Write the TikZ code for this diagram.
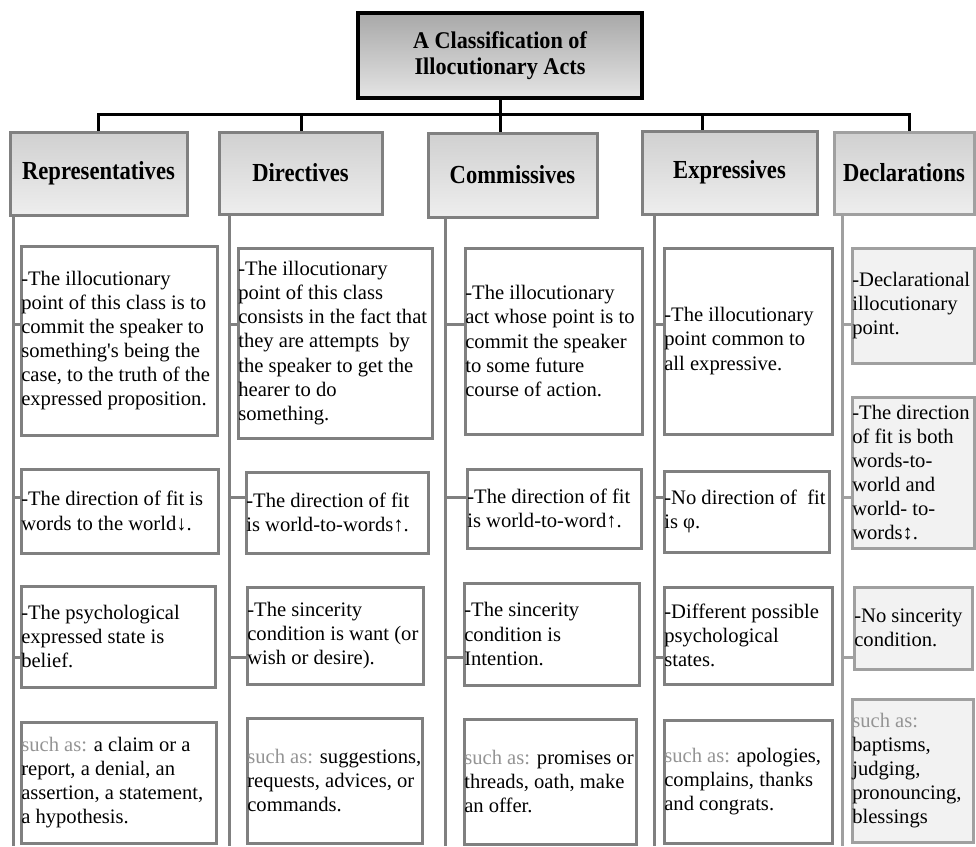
\documentclass[tikz,border=0pt]{standalone}
\usepackage{graphicx}
\usepackage{fontspec}
\setmainfont{Liberation Serif}[Ligatures=TeXOff]
\definecolor{bord}{HTML}{808080}
\definecolor{bordD}{HTML}{A0A0A0}
\definecolor{declF}{HTML}{F2F2F2}
\definecolor{suchc}{HTML}{949494}
\definecolor{rootT}{HTML}{A8A8A8}
\definecolor{rootB}{HTML}{E4E4E4}
\definecolor{catT}{HTML}{D0D0D0}
\definecolor{catB}{HTML}{EEEEEE}
\newcommand\mkbox[6]{%
  \node[#1, minimum width={(#5-#3)*1pt}, minimum height={(#6-#4)*1pt}, inner sep=0pt]
    (#2) at ({(#3+#5)/2},{(#4+#6)/2}) {};}
\newcommand\sa{\textcolor{suchc}{such as:}}
\newcommand\tallH[1]{\scalebox{1}[1.15]{#1}}
\newcommand\tallR[1]{\scalebox{1}[1.08]{#1}}
\tikzset{
  rootbox/.style={draw=black, line width=3.5pt, top color=rootT, bottom color=rootB},
  catbox/.style={draw=bord, line width=3pt, top color=catT, bottom color=catB},
  catboxD/.style={draw=bordD, line width=3pt, top color=catT, bottom color=catB},
  cbox/.style={draw=bord, line width=3pt, fill=white},
  dbox/.style={draw=bordD, line width=3pt, fill=declF},
  txt/.style={anchor=west, inner sep=0pt, align=left, font=\fontsize{20.6}{24.1}\selectfont},
  hdr/.style={inner sep=0pt, align=center, font=\fontsize{22.6}{26}\selectfont\bfseries},
  roottxt/.style={inner sep=0pt, align=center, font=\fontsize{22.2}{25.7}\selectfont\bfseries},
  link/.style={draw=black, line width=3pt},
  spine/.style={draw=bord, line width=3pt},
  spineD/.style={draw=bordD, line width=3pt},
}
\begin{document}
\begin{tikzpicture}[x=1pt, y=-1pt]
\useasboundingbox (0,0) rectangle (976,846);

% root
\mkbox{rootbox}{root}{358}{13}{642}{98}
\node[roottxt] (roott) at (root.center) {\tallR{A Classification of}\\\tallR{Illocutionary Acts}};

% categories
\mkbox{catbox}{R}{10}{132}{187}{215}
\mkbox{catbox}{D}{219}{132}{382}{214}
\mkbox{catbox}{C}{428}{133}{597}{217}
\mkbox{catbox}{E}{642}{131}{817}{214}
\mkbox{catboxD}{X}{834}{132}{974}{214}
\node[hdr] (Rt) at (R.center) {\tallH{Representatives}};
\node[hdr] (Dt) at (D.center) {\tallH{Directives}};
\node[hdr] (Ct) at (C.center) {\tallH{Commissives}};
\node[hdr] (Et) at (E.center) {\tallH{Expressives}};
\node[hdr] (Xt) at (X.center) {\tallH{Declarations}};

% top connectors
\coordinate (dR) at (98,114);
\coordinate (dD) at (301,114);
\coordinate (dC) at (500,114);
\coordinate (dE) at (702,114);
\coordinate (dX) at (909,114);
\draw[link] (root.south -| dC) -- (dC);
\draw[link, line cap=rect] (dR) -- (dX);
\draw[link] (dR) -- (dR |- R.north);
\draw[link] (dD) -- (dD |- D.north);
\draw[link] (dC) -- (dC |- C.north);
\draw[link] (dE) -- (dE |- E.north);
\draw[link] (dX) -- (dX |- X.north);

% spines
\coordinate (Rb) at (13,846);
\coordinate (Db) at (229,846);
\coordinate (Cb) at (445,846);
\coordinate (Eb) at (654,846);
\coordinate (Xb) at (842,846);
\draw[spine] (R.south -| Rb) -- (Rb);
\draw[spine] (D.south -| Db) -- (Db);
\draw[spine] (C.south -| Cb) -- (Cb);
\draw[spine] (E.south -| Eb) -- (Eb);
\draw[spineD] (X.south -| Xb) -- (Xb);

% content boxes
\mkbox{cbox}{r1}{21}{246}{217}{435}
\mkbox{cbox}{r2}{21}{469}{218}{553}
\mkbox{cbox}{r3}{21}{586}{215}{687}
\mkbox{cbox}{r4}{21}{722}{216}{843}
\mkbox{cbox}{d1}{238}{248}{432}{438}
\mkbox{cbox}{d2}{246}{472}{428}{553}
\mkbox{cbox}{d3}{247}{587}{423}{684}
\mkbox{cbox}{d4}{247}{718}{422}{843}
\mkbox{cbox}{c1}{465}{248}{642}{434}
\mkbox{cbox}{c2}{467}{469}{641}{548}
\mkbox{cbox}{c3}{464}{583}{639}{685}
\mkbox{cbox}{c4}{464}{719}{636}{844}
\mkbox{cbox}{e1}{664}{248}{832}{434}
\mkbox{cbox}{e2}{664}{471}{829}{552}
\mkbox{cbox}{e3}{664}{587}{832}{684}
\mkbox{cbox}{e4}{664}{720}{832}{843}
\mkbox{dbox}{x1}{852}{248}{974}{363}
\mkbox{dbox}{x2}{852}{397}{974}{548}
\mkbox{dbox}{x3}{854}{587}{972}{669}
\mkbox{dbox}{x4}{852}{699}{973}{842}

% ticks
\coordinate (ya) at (0,324);
\coordinate (yb) at (0,497);
\coordinate (yc) at (0,657);
\draw[spine] (Rb |- ya) -- (r1.west |- ya);
\draw[spine] (Rb |- yb) -- (r2.west |- yb);
\draw[spine] (Rb |- yc) -- (r3.west |- yc);
\draw[spine] (Db |- ya) -- (d1.west |- ya);
\draw[spine] (Db |- yb) -- (d2.west |- yb);
\draw[spine] (Db |- yc) -- (d3.west |- yc);
\draw[spine] (Cb |- ya) -- (c1.west |- ya);
\draw[spine] (Cb |- yb) -- (c2.west |- yb);
\draw[spine] (Cb |- yc) -- (c3.west |- yc);
\draw[spine] (Eb |- ya) -- (e1.west |- ya);
\draw[spine] (Eb |- yb) -- (e2.west |- yb);
\draw[spine] (Eb |- yc) -- (e3.west |- yc);
\draw[spineD] (Xb |- ya) -- (x1.west |- ya);
\draw[spineD] (Xb |- yb) -- (x2.west |- yb);
\draw[spineD] (Xb |- yc) -- (x3.west |- yc);

% texts
\node[txt] (r1t) at ([xshift=1.6pt]r1.west) {-The illocutionary\\point of this class is to\\commit the speaker to\\something's being the\\case, to the truth of the\\expressed proposition.};
\node[txt] (r2t) at ([xshift=1.6pt]r2.west) {-The direction of fit is\\words to the world↓.};
\node[txt] (r3t) at ([xshift=1.6pt]r3.west) {-The psychological\\expressed state is\\belief.};
\node[txt] (r4t) at ([xshift=1.6pt]r4.west) {\sa{} a claim or a\\report, a denial, an\\assertion, a statement,\\a hypothesis.};

\node[txt] (d1t) at ([xshift=1.6pt]d1.west) {-The illocutionary\\point of this class\\consists in the fact that\\they are attempts\ \ by\\the speaker to get the\\hearer to do\\something.};
\node[txt] (d2t) at ([xshift=1.6pt]d2.west) {-The direction of fit\\is world-to-words↑.};
\node[txt] (d3t) at ([xshift=1.6pt]d3.west) {-The sincerity\\condition is want (or\\wish or desire).};
\node[txt] (d4t) at ([xshift=1.6pt]d4.west) {\sa{} suggestions,\\requests, advices, or\\commands.};

\node[txt] (c1t) at ([xshift=1.6pt]c1.west) {-The illocutionary\\act whose point is to\\commit the speaker\\to some future\\course of action.};
\node[txt] (c2t) at ([xshift=1.6pt]c2.west) {-The direction of fit\\is world-to-word↑.};
\node[txt] (c3t) at ([xshift=1.6pt]c3.west) {-The sincerity\\condition is\\Intention.};
\node[txt] (c4t) at ([xshift=1.6pt]c4.west) {\sa{} promises or\\threads, oath, make\\an offer.};

\node[txt] (e1t) at ([xshift=1.6pt]e1.west) {-The illocutionary\\point common to\\all expressive.};
\node[txt] (e2t) at ([xshift=1.6pt]e2.west) {-No direction of\ \ fit\\is φ.};
\node[txt] (e3t) at ([xshift=1.6pt]e3.west) {-Different possible\\psychological\\states.};
\node[txt] (e4t) at ([xshift=1.6pt]e4.west) {\sa{} apologies,\\complains, thanks\\and congrats.};

\node[txt] (x1t) at ([xshift=1.6pt]x1.west) {-Declarational\\illocutionary\\point.};
\node[txt] (x2t) at ([xshift=1.6pt]x2.west) {-The direction\\of fit is both\\words-to-\\world and\\world- to-\\words↕.};
\node[txt] (x3t) at ([xshift=1.6pt]x3.west) {-No sincerity\\condition.};
\node[txt] (x4t) at ([xshift=1.6pt]x4.west) {\sa\\baptisms,\\judging,\\pronouncing,\\blessings};
\end{tikzpicture}
\end{document}
